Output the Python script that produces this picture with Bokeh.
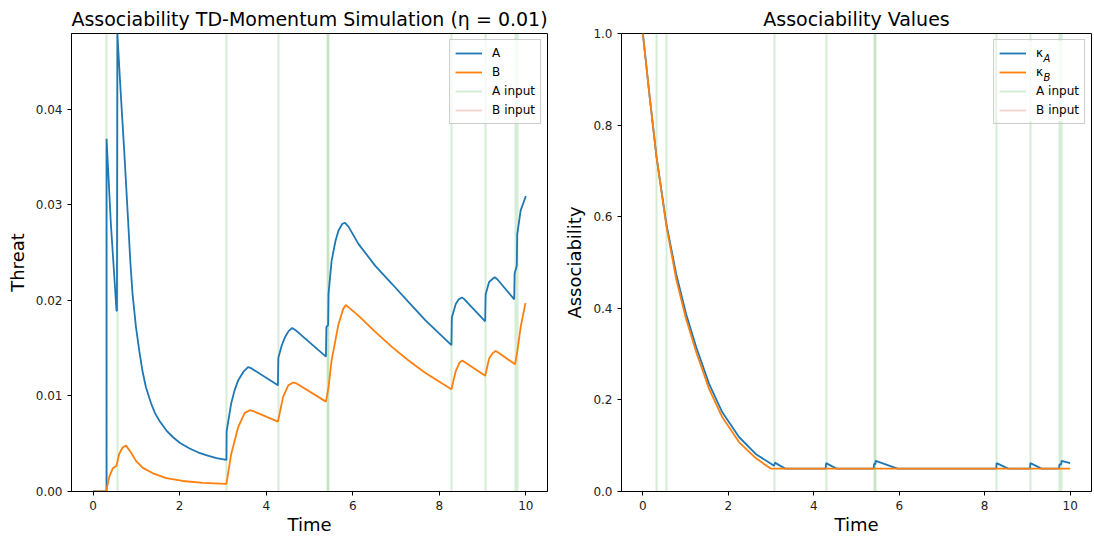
from bokeh.plotting import figure
from bokeh.layouts import row
from bokeh.models import (Range1d, FixedTicker, PrintfTickFormatter, Legend, LegendItem, Label,
                          BoxAnnotation)
from bokeh.embed import file_html
from bokeh.resources import INLINE

FONT = "DejaVu Sans"
C_A = "#1f77b4"
C_B = "#ff7f0e"
C_AIN = "#2ca02c"
C_BIN = "#d62728"
NAN = float("nan")

# ---------------- data ----------------
a_input_times = [0.31, 0.56, 3.09, 4.29, 5.41, 5.45, 8.28, 9.07, 9.75, 9.80]
b_input_times = []

threat_a_t = [0.0, 0.31, 0.31, 0.41, 0.54, 0.55, 0.56, 0.64, 0.72, 0.80, 0.86, 0.91, 0.99, 1.07,
              1.14, 1.22, 1.34, 1.43, 1.53, 1.69, 1.84, 2.0, 2.23, 2.42, 2.61, 2.85, 3.08,
              3.085, 3.19, 3.27, 3.35, 3.47, 3.58, 3.65, 4.27, 4.28, 4.36, 4.43, 4.52, 4.60,
              4.67, 5.38, 5.39, 5.43, 5.44, 5.51, 5.60, 5.67, 5.76, 5.82, 5.90, 6.13, 6.52,
              6.91, 7.29, 7.68, 8.28, 8.29, 8.38, 8.45, 8.52, 8.58, 9.06, 9.07, 9.15, 9.22,
              9.28, 9.34, 9.73, 9.74, 9.79, 9.80, 9.88, 10.0]
threat_a = [0.0, 0.0, 0.0369, 0.0280, 0.0189, 0.0189, 0.0479, 0.0415, 0.0355, 0.0290, 0.0240,
            0.0207, 0.0172, 0.0146, 0.0126, 0.0109, 0.0092, 0.0082, 0.0074, 0.0064, 0.0057,
            0.0051, 0.0045, 0.0041, 0.0038, 0.0035, 0.0033, 0.0063, 0.0092, 0.0106, 0.0116,
            0.0125, 0.0130, 0.0129, 0.0111, 0.0140, 0.0153, 0.0161, 0.0168, 0.0171, 0.0169,
            0.0141, 0.0172, 0.0174, 0.0207, 0.0241, 0.0262, 0.0273, 0.0280, 0.0281, 0.0277,
            0.0259, 0.0236, 0.0217, 0.0198, 0.0179, 0.0153, 0.0182, 0.0196, 0.0201, 0.0203,
            0.0201, 0.0178, 0.0206, 0.0219, 0.0222, 0.0224, 0.0222, 0.0201, 0.0228, 0.0236,
            0.0269, 0.0294, 0.0309]

threat_b_t = [0.0, 0.30, 0.37, 0.45, 0.54, 0.60, 0.68, 0.76, 0.87, 0.99, 1.14, 1.38, 1.69, 2.07,
              2.54, 3.08, 3.19, 3.35, 3.50, 3.62, 3.70, 4.27, 4.39, 4.51, 4.62, 4.70, 5.38,
              5.44, 5.51, 5.67, 5.78, 5.84, 5.92, 6.13, 6.52, 6.91, 7.29, 7.68, 8.28, 8.38,
              8.47, 8.53, 8.60, 9.06, 9.15, 9.24, 9.30, 9.37, 9.75, 9.80, 9.88, 9.99]
threat_b = [0.0, 0.0, 0.0015, 0.0024, 0.0027, 0.0039, 0.0046, 0.0048, 0.0041, 0.0032, 0.0025,
            0.0019, 0.0014, 0.0011, 0.0009, 0.0008, 0.0039, 0.0067, 0.0082, 0.0085, 0.0084,
            0.0073, 0.0099, 0.0111, 0.0114, 0.0113, 0.0094, 0.0109, 0.0137, 0.0175, 0.0191,
            0.0195, 0.0192, 0.0184, 0.0167, 0.0151, 0.0137, 0.0124, 0.0107, 0.0126, 0.0135,
            0.0137, 0.0135, 0.0121, 0.0139, 0.0145, 0.0147, 0.0145, 0.0133, 0.0146, 0.0172,
            0.0197]

kappa_a_t = [0.0, 0.16, 0.32, 0.55, 0.78, 1.01, 1.25, 1.55, 1.86, 2.25, 2.64, 3.07, 3.09, 3.33,
             4.28, 4.29, 4.53, 5.40, 5.41, 5.44, 5.45, 5.96, 8.27, 8.28, 8.55, 9.06, 9.07,
             9.33, 9.74, 9.75, 9.79, 9.80, 10.0]
kappa_a = [1.0, 0.861, 0.730, 0.584, 0.475, 0.388, 0.315, 0.235, 0.173, 0.119, 0.082, 0.056,
           0.063, 0.050, 0.050, 0.062, 0.050, 0.050, 0.060, 0.060, 0.067, 0.050, 0.050, 0.062,
           0.050, 0.050, 0.062, 0.050, 0.050, 0.059, 0.059, 0.067, 0.062]

kappa_b_t = [0.0, 0.16, 0.32, 0.55, 0.78, 1.01, 1.25, 1.55, 1.86, 2.25, 2.64, 2.99, 10.0]
kappa_b = [1.0, 0.861, 0.730, 0.580, 0.464, 0.377, 0.304, 0.224, 0.162, 0.108, 0.073, 0.050,
           0.050]

x_ticks = [0, 2, 4, 6, 8, 10]
threat_ticks = [0.0, 0.01, 0.02, 0.03, 0.04]
assoc_ticks = [0.0, 0.2, 0.4, 0.6, 0.8, 1.0]

TOP = 33
FH = 458
BOTTOM = 48
XMIN, XMAX = -0.5, 10.5


def style(p, yfmt, yticks):
    p.outline_line_color = "black"
    p.outline_line_alpha = 1
    p.outline_line_width = 1
    p.xgrid.visible = False
    p.ygrid.visible = False
    p.background_fill_color = "white"
    p.border_fill_color = "white"
    p.xaxis.ticker = FixedTicker(ticks=x_ticks)
    p.xaxis.formatter = PrintfTickFormatter(format="%d")
    p.yaxis.ticker = FixedTicker(ticks=yticks)
    p.yaxis.formatter = PrintfTickFormatter(format=yfmt)
    for ax in (p.xaxis[0], p.yaxis[0]):
        ax.axis_line_color = "black"
        ax.major_tick_line_color = "black"
        ax.minor_tick_line_color = None
        ax.major_tick_out = 4
        ax.major_tick_in = 0
        ax.major_label_text_font = FONT
        ax.major_label_text_font_size = "12px"
        ax.major_label_text_color = "#222222"
        ax.axis_label_text_font = FONT
        ax.axis_label_text_font_size = "18px"
        ax.axis_label_text_font_style = "normal"
        ax.axis_label_text_color = "black"
    p.xaxis.major_label_standoff = 5
    p.xaxis.axis_label_standoff = 1
    p.yaxis.major_label_standoff = 5
    p.yaxis.axis_label_standoff = 5
    p.title.text_font = FONT
    p.title.text_font_size = "19px"
    p.title.text_font_style = "normal"
    p.title.text_color = "black"
    p.title.align = "center"
    p.title.standoff = 7


def make_legend(items, fill_alpha=0.8):
    lg = Legend(items=items, location="top_right")
    lg.margin = 6
    lg.padding = 5
    lg.spacing = 3
    lg.glyph_height = 16
    lg.label_height = 16
    lg.glyph_width = 27
    lg.label_standoff = 10
    lg.label_text_font = FONT
    lg.label_text_font_size = "12px"
    lg.label_text_color = "black"
    lg.border_line_color = "#cccccc"
    lg.border_line_alpha = 1
    lg.background_fill_alpha = fill_alpha
    return lg


# ---------------- left ----------------
p1 = figure(frame_width=476, frame_height=FH, min_border_left=71, min_border_right=10,
            min_border_top=TOP, min_border_bottom=BOTTOM,
            x_range=Range1d(XMIN, XMAX), y_range=Range1d(0, 0.0479),
            title="Associability TD-Momentum Simulation (η = 0.01)",
            output_backend="svg", toolbar_location=None)
style(p1, "%.2f", threat_ticks)
p1.xaxis.axis_label = "Time"
p1.yaxis.axis_label = "Threat"

p1.vspan(x=a_input_times, line_color=C_AIN, line_alpha=0.2, line_width=2)
p1.vspan(x=b_input_times, line_color=C_BIN, line_alpha=0.2, line_width=2)
la = p1.line(threat_a_t, threat_a, line_color=C_A, line_width=1.8)
lb = p1.line(threat_b_t, threat_b, line_color=C_B, line_width=1.8)
# legend proxies (no visible data)
pa = p1.line([NAN], [NAN], line_color=C_AIN, line_alpha=0.2, line_width=2)
pb = p1.line([NAN], [NAN], line_color=C_BIN, line_alpha=0.2, line_width=2)
p1.add_layout(make_legend([LegendItem(label="A", renderers=[la]),
                           LegendItem(label="B", renderers=[lb]),
                           LegendItem(label="A input", renderers=[pa]),
                           LegendItem(label="B input", renderers=[pb])]))

# ---------------- right ----------------
FW2 = 470
p2 = figure(frame_width=FW2, frame_height=FH, min_border_left=64, min_border_right=3,
            min_border_top=TOP, min_border_bottom=BOTTOM,
            x_range=Range1d(XMIN, XMAX), y_range=Range1d(0, 1.0),
            title="Associability Values",
            output_backend="svg", toolbar_location=None)
style(p2, "%.1f", assoc_ticks)
p2.xaxis.axis_label = "Time"
p2.yaxis.axis_label = "Associability"

p2.vspan(x=a_input_times, line_color=C_AIN, line_alpha=0.2, line_width=2)
p2.vspan(x=b_input_times, line_color=C_BIN, line_alpha=0.2, line_width=2)
ka = p2.line(kappa_a_t, kappa_a, line_color=C_A, line_width=1.8)
kb = p2.line(kappa_b_t, kappa_b, line_color=C_B, line_width=1.8)
qa = p2.line([NAN], [NAN], line_color=C_AIN, line_alpha=0.2, line_width=2)
qb = p2.line([NAN], [NAN], line_color=C_BIN, line_alpha=0.2, line_width=2)

# translucent legend background drawn separately so subscripts can sit above it
px = (XMAX - XMIN) / FW2
py = 1.0 / FH
LW, LH, LM = 90, 83, 6
p2.add_layout(BoxAnnotation(left=XMAX - (LM + LW - 1) * px, right=XMAX - (LM + 1) * px,
                            top=1.0 - (LM + 1) * py, bottom=1.0 - (LM + LH - 1) * py,
                            fill_color="white", fill_alpha=0.8, line_color=None,
                            level="annotation"))
p2.add_layout(make_legend([LegendItem(label="κ", renderers=[ka]),
                           LegendItem(label="κ", renderers=[kb]),
                           LegendItem(label="A input", renderers=[qa]),
                           LegendItem(label="B input", renderers=[qb])], fill_alpha=0.0))
# subscripts for the kappa legend labels
for i, sub in enumerate(["A", "B"]):
    p2.add_layout(Label(x=FW2 - 48, y=FH - 6 - 5 - 8 - i * 19 - 6, x_units="screen",
                        y_units="screen", text=sub, text_font=FONT, text_font_size="10px",
                        text_font_style="italic", text_color="black",
                        text_baseline="middle", text_align="left"))

layout = row(p1, p2)
open("out.html", "w").write(file_html(layout, INLINE))
